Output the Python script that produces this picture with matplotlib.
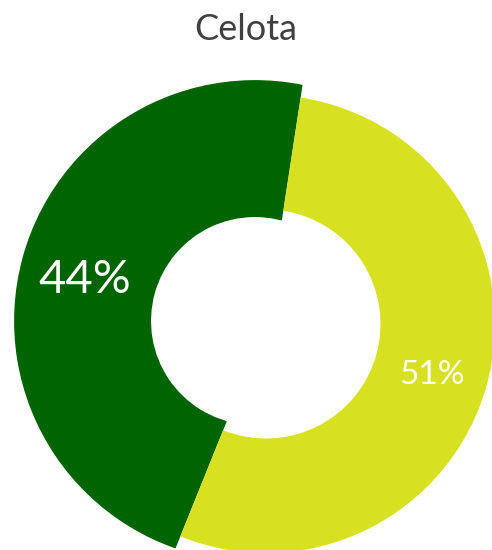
import matplotlib
matplotlib.use('Agg')
import matplotlib.pyplot as plt
from matplotlib.patches import Wedge
import numpy as np

# data
values = [44, 51]
pct_labels = ['44%', '51%']
colors = ['#006400', '#d8e022']
title = 'Celota'

W, H = 492, 550
fig = plt.figure(figsize=(W / 100, H / 100), dpi=100)
ax = fig.add_axes([0, 0, 1, 1])

# ring centre in pixels and pixels per data unit (picture is cropped right/bottom)
cx, cy, scale = 266, 324, 229

wedges, _ = ax.pie(values, colors=colors, startangle=81.3, counterclock=True,
                   radius=1.0, wedgeprops=dict(width=0.5, linewidth=0))

# green slice is pulled out to the left and drawn a bit thicker
g = wedges[0]
clip = Wedge((0, 0), 3, g.theta1, g.theta2, transform=ax.transData)
g.set_center((-0.048, 0.013))
g.set_radius(1.052)
g.set_width(0.598)
g.set_theta1(g.theta1 - 15)
g.set_theta2(g.theta2 + 15)
g.set_clip_on(True)
g.set_clip_path(clip)

# percent labels at the middle angle of each slice
label_r = [0.77, 0.75]
label_size = [34, 24]
for w, t, r, s in zip(wedges, pct_labels, label_r, label_size):
    mid = np.deg2rad((w.theta1 + w.theta2) / 2)
    x0, y0 = w.center
    ax.text(x0 + r * np.cos(mid), y0 + r * np.sin(mid) - 0.025, t, color='white',
            fontsize=s, family='Lato', ha='center', va='center')

ax.set_aspect('auto')
ax.set_xlim(-cx / scale, (W - cx) / scale)
ax.set_ylim((cy - H) / scale, cy / scale)
ax.axis('off')

fig.text(246 / W, 1 - 40 / H, title, color='#404040', fontsize=26,
         family='Lato', ha='center', va='baseline')

plt.savefig('out.png', dpi=100)
plt.close()
